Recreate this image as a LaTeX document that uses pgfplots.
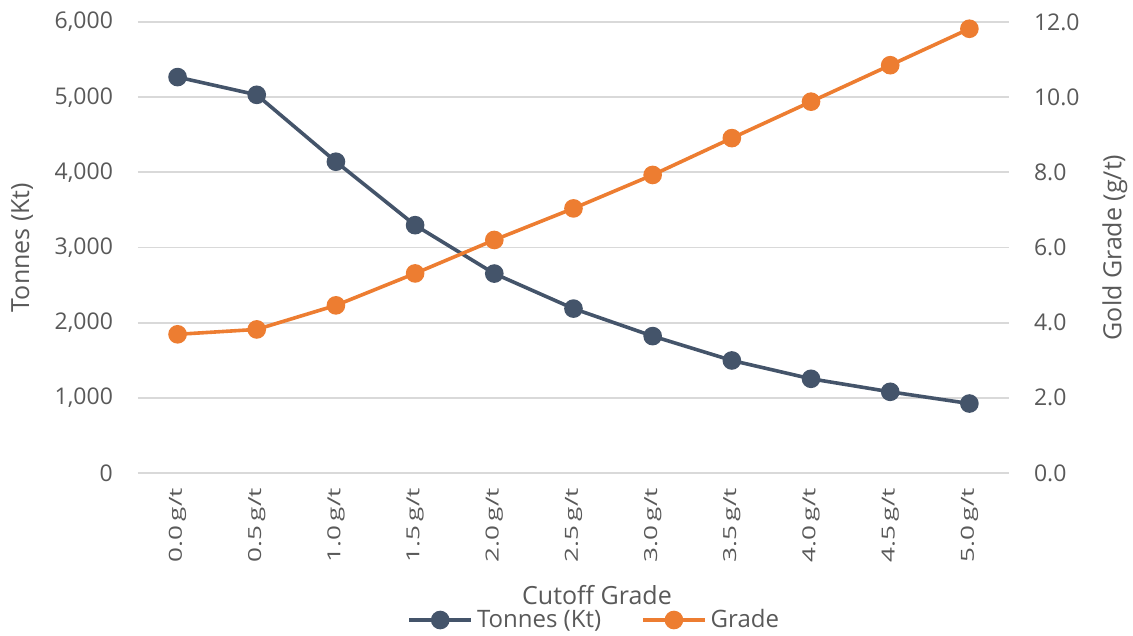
\documentclass[border=0pt]{standalone}
\usepackage{fontspec}
\setmainfont{Open Sans}
\usepackage{graphicx}
\usepackage{pgfplots}
\pgfplotsset{compat=1.18}
\usepackage{pgfplotstable}

\definecolor{tonnes}{HTML}{44546A}
\definecolor{grade}{HTML}{ED7D31}
\definecolor{gridgray}{HTML}{D9D9D9}
\definecolor{labelgray}{HTML}{595959}

% cutoff, tonnes (Kt), grade (g/t)
\pgfplotstableread{
idx tonnes grade
0   5267  3.69
1   5031  3.82
2   4141  4.46
3   3297  5.31
4   2653  6.20
5   2187  7.04
6   1821  7.93
7   1497  8.91
8   1253  9.88
9   1080  10.85
10  924   11.82
}\cutoffdata

\newcommand{\cg}[1]{\scalebox{1.45}[1]{#1\,g/t}}

\pgfplotsset{
  base/.style={
    scale only axis,
    width=435.5pt, height=225.5pt,
    xmin=-0.5, xmax=10.5,
    xtick={0,...,10},
    major tick length=0pt,
    tick label style={font=\fontsize{11.5}{13}\selectfont, text=labelgray},
    label style={font=\fontsize{12.5}{14}\selectfont, text=labelgray},
    /pgf/number format/assume math mode=true,
    axis line style={draw=none},
  },
  lineleg/.style={
    legend image code/.code={
      \draw[mark repeat=2,mark phase=2,##1] plot coordinates {(0pt,0pt) (15.5pt,0pt) (31pt,0pt)};
    }
  },
}

\begin{document}
\begin{tikzpicture}
\begin{axis}[
  base,
  ymin=0, ymax=6000,
  ytick={0,1000,...,6000},
  yticklabel style={/pgf/number format/fixed, /pgf/number format/1000 sep={,}},
  scaled y ticks=false,
  ymajorgrids,
  grid style={gridgray, line width=0.9pt},
  xticklabels={\cg{0.0},\cg{0.5},\cg{1.0},\cg{1.5},\cg{2.0},\cg{2.5},\cg{3.0},\cg{3.5},\cg{4.0},\cg{4.5},\cg{5.0}},
  xticklabel style={rotate=90, anchor=east, font=\fontsize{9}{10}\selectfont},
  xticklabel shift=4pt,
  yticklabel shift=9pt,
  xlabel={Cutoff Grade},
  xlabel style={at={(axis description cs:0.527,-0.270)}, anchor=center},
  ylabel={Tonnes (Kt)},
  ylabel style={at={(axis description cs:-0.133,0.5)}, anchor=center},
]
\addplot[tonnes, line width=1.8pt, mark=*, mark size=3.75pt, mark options={fill=tonnes, draw=tonnes}]
  table[x=idx, y=tonnes] {\cutoffdata};
\coordinate (bbA) at (axis description cs:-0.1584,1.0488);
\coordinate (bbB) at (axis description cs:1.1424,-0.3614);
\end{axis}

\begin{axis}[
  base,
  axis x line=none,
  axis y line*=right,
  ymin=0, ymax=12,
  ytick={0,2,...,12},
  yticklabel style={/pgf/number format/fixed, /pgf/number format/fixed zerofill, /pgf/number format/precision=1, anchor=west},
  yticklabel shift=9pt,
  ylabel={Gold Grade (g/t)},
  ylabel style={at={(axis description cs:1.1217,0.5)}, anchor=center},
  legend columns=2,
  legend style={
    at={(axis description cs:0.525,-0.326)}, anchor=center,
    draw=none, fill=none,
    font=\fontsize{12}{14}\selectfont, text=labelgray,
    /tikz/every even column/.style={column sep=18pt},
    inner sep=0pt, cells={anchor=west},
  },
]
\addlegendimage{lineleg, tonnes, line width=1.8pt, mark=*, mark size=3.75pt, mark options={fill=tonnes, draw=tonnes}}
\addlegendentry{Tonnes (Kt)}
\addplot[lineleg, grade, line width=1.8pt, mark=*, mark size=3.75pt, mark options={fill=grade, draw=grade}]
  table[x=idx, y=grade] {\cutoffdata};
\addlegendentry{Grade}
\end{axis}

\pgfresetboundingbox
\path[use as bounding box] (bbA) rectangle (bbB);
\end{tikzpicture}
\end{document}
